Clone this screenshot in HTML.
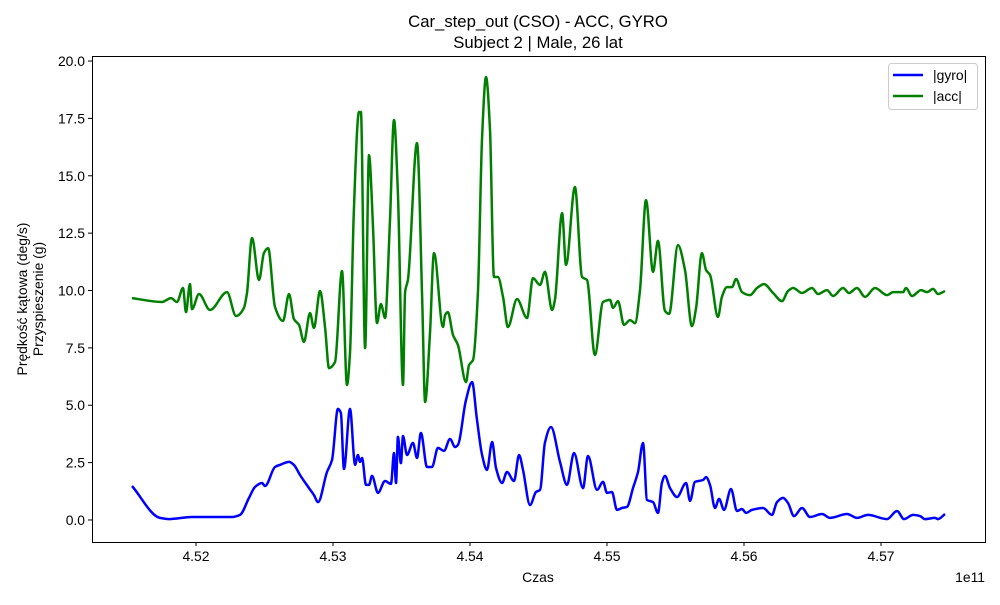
<!DOCTYPE html>
<html><head><meta charset="utf-8"><style>
body{margin:0;background:#fff;}
svg text{font-family:"Liberation Sans","DejaVu Sans",sans-serif;fill:#000;}
</style></head><body>
<svg id="chart" width="1000" height="600" xmlns="http://www.w3.org/2000/svg">
<rect x="0" y="0" width="1000" height="600" fill="#fff"/>
<text x="538" y="27" font-size="16.7" text-anchor="middle">Car_step_out (CSO) - ACC, GYRO</text>
<text x="538" y="48" font-size="16.7" text-anchor="middle">Subject 2 | Male, 26 lat</text>
<text x="538" y="582" font-size="13.9" text-anchor="middle">Czas</text>
<text x="985" y="582" font-size="13.9" text-anchor="end">1e11</text>
<g transform="translate(27,299) rotate(-90)">
<text x="0" y="0" font-size="13.9" text-anchor="middle">Prędkość kątowa (deg/s)</text>
<text x="0" y="16" font-size="13.9" text-anchor="middle">Przyspieszenie (g)</text>
</g>
<g id="grid"></g>
<g id="series"></g>
<rect x="92.5" y="56.5" width="893" height="486" fill="none" stroke="#000" stroke-width="1"/>
<g>
<rect x="888.5" y="63.5" width="89" height="46" rx="3" fill="#fff" fill-opacity="0.8" stroke="#ccc"/>
<line x1="893" y1="75" x2="923" y2="75" stroke="#0000ff" stroke-width="2.5"/>
<text x="933" y="80" font-size="13.9">|gyro|</text>
<line x1="893" y1="96" x2="923" y2="96" stroke="#008000" stroke-width="2.5"/>
<text x="933" y="101" font-size="13.9">|acc|</text>
</g>
</svg>
<script>
const xTicks = [452, 453, 454, 455, 456, 457];
const xTickLabels = ["4.52", "4.53", "4.54", "4.55", "4.56", "4.57"];
const yTicks = [0, 2.5, 5, 7.5, 10, 12.5, 15, 17.5, 20];
const yTickLabels = ["0.0", "2.5", "5.0", "7.5", "10.0", "12.5", "15.0", "17.5", "20.0"];
const accTime = [451.533,451.752,451.818,451.861,451.905,451.927,451.956,451.971,452.022,452.102,452.226,452.292,452.350,452.372,452.409,452.460,452.496,452.526,452.577,452.635,452.679,452.715,452.752,452.788,452.832,452.861,452.905,452.942,452.971,453.015,453.066,453.102,453.124,453.153,453.190,453.204,453.234,453.263,453.292,453.321,453.350,453.380,453.416,453.445,453.474,453.511,453.526,453.547,453.613,453.650,453.672,453.708,453.737,453.803,453.818,453.839,453.876,453.912,453.971,453.993,454.022,454.058,454.088,454.117,454.146,454.175,454.204,454.241,454.277,454.343,454.416,454.460,454.511,454.547,454.599,454.620,454.672,454.701,454.766,454.818,454.854,454.912,454.971,455.022,455.044,455.080,455.124,455.168,455.204,455.241,455.285,455.336,455.372,455.423,455.453,455.518,455.569,455.620,455.650,455.693,455.723,455.752,455.810,455.839,455.876,455.912,455.942,455.985,456.044,456.095,456.146,456.212,456.277,456.321,456.358,456.423,456.496,456.540,456.606,456.650,456.723,456.766,456.825,456.883,456.956,457.044,457.088,457.161,457.182,457.226,457.292,457.336,457.380,457.416,457.467];
const accValues = [9.67,9.50,9.67,9.50,10.11,9.06,10.28,9.19,9.85,9.15,9.93,8.89,9.24,9.89,12.29,10.46,11.63,11.85,9.28,8.67,9.85,8.76,8.50,7.76,9.02,8.37,9.98,8.41,6.62,6.88,10.85,5.88,7.28,13.64,17.78,17.78,7.49,15.90,12.77,8.58,9.41,8.80,13.07,17.43,14.25,5.88,9.93,10.46,16.43,9.89,5.14,8.15,11.63,8.41,8.93,9.06,8.06,7.63,6.01,6.75,6.97,9.89,16.69,19.30,16.99,10.59,10.59,9.72,8.41,9.63,8.80,10.54,10.24,10.81,9.15,9.59,13.38,11.11,14.51,10.59,10.46,7.19,9.50,9.59,9.24,9.54,8.50,8.71,8.58,10.02,13.94,10.81,12.16,9.11,8.98,11.98,10.89,8.45,9.24,11.63,10.89,10.68,8.85,9.72,10.15,10.15,10.50,9.93,9.80,10.11,10.28,9.89,9.54,9.98,10.11,9.89,10.11,9.85,10.02,9.76,10.11,9.89,10.11,9.72,10.11,9.80,9.93,9.93,10.11,9.76,10.02,9.93,10.07,9.85,9.98];
const gyroTime = [451.533,451.737,451.803,451.971,452.263,452.321,452.387,452.431,452.482,452.504,452.577,452.613,452.679,452.715,452.759,452.825,452.861,452.891,452.956,452.993,453.036,453.058,453.080,453.124,453.161,453.182,453.197,453.212,453.241,453.263,453.285,453.328,453.380,453.423,453.445,453.460,453.474,453.496,453.511,453.540,453.584,453.613,453.642,453.686,453.723,453.766,453.810,453.854,453.891,453.912,453.971,454.015,454.051,454.088,454.124,454.161,454.190,454.234,454.270,454.321,454.358,454.387,454.438,454.482,454.511,454.547,454.591,454.657,454.708,454.759,454.825,454.861,454.927,454.971,455.000,455.036,455.073,455.109,455.146,455.190,455.226,455.263,455.292,455.336,455.372,455.401,455.423,455.460,455.511,455.577,455.606,455.642,455.701,455.723,455.752,455.788,455.818,455.854,455.905,455.949,455.985,456.015,456.058,456.139,456.204,456.241,456.285,456.321,456.365,456.423,456.482,456.569,456.628,456.752,456.825,456.905,457.044,457.117,457.168,457.234,457.285,457.321,457.394,457.416,457.467];
const gyroValues = [1.48,0.09,0.04,0.13,0.13,0.22,0.96,1.44,1.61,1.48,2.31,2.40,2.53,2.40,1.96,1.39,1.09,0.78,2.09,2.61,4.84,4.66,2.22,4.84,2.40,2.83,2.53,2.70,1.53,1.53,1.92,1.18,1.70,1.57,2.92,1.61,3.62,2.48,3.66,2.83,3.36,2.70,3.79,2.31,2.31,3.14,3.01,3.53,3.18,3.27,5.23,6.01,4.36,2.83,2.18,3.40,2.27,1.61,2.09,1.70,2.83,2.18,0.65,1.22,1.31,3.36,4.05,2.53,1.53,2.92,1.39,2.79,1.31,1.66,1.18,1.22,0.44,0.52,0.57,1.39,2.09,3.36,0.87,0.78,0.31,1.61,1.92,1.39,1.00,1.61,0.83,1.66,1.74,1.87,1.53,0.52,0.92,0.44,1.35,0.39,0.48,0.31,0.44,0.52,0.22,0.78,0.96,0.74,0.17,0.52,0.13,0.26,0.09,0.26,0.09,0.22,0.04,0.39,0.04,0.22,0.17,0.04,0.09,0.04,0.26];

const NS = "http://www.w3.org/2000/svg";
const X0 = 92, X1 = 985, Y0 = 542, Y1 = 56;
const xMin = 451.241, xMax = 457.759, yMin = -0.96, yMax = 20.22;
function xScale(t){ return X0 + (t - xMin) / (xMax - xMin) * (X1 - X0); }
function yScale(v){ return Y0 - (v - yMin) / (yMax - yMin) * (Y0 - Y1); }
const grid = document.getElementById('grid');
const series = document.getElementById('series');

xTicks.forEach((t, i) => {
  const x = xScale(t);
  const ln = document.createElementNS(NS, 'line');
  
  
  ln.setAttribute('x1', x); ln.setAttribute('x2', x);
  ln.setAttribute('y1', Y0); ln.setAttribute('y2', Y0 + 4);
  ln.setAttribute('stroke', '#000');
  grid.appendChild(ln);
  const tx = document.createElementNS(NS, 'text');
  
  
  tx.setAttribute('x', x); tx.setAttribute('y', Y0 + 19);
  tx.setAttribute('font-size', '13.9');
  tx.setAttribute('text-anchor', 'middle');
  tx.textContent = xTickLabels[i];
  grid.appendChild(tx);
});
yTicks.forEach((v, i) => {
  const y = yScale(v);
  const ln = document.createElementNS(NS, 'line');
  
  
  ln.setAttribute('x1', X0 - 4); ln.setAttribute('x2', X0);
  ln.setAttribute('y1', y); ln.setAttribute('y2', y);
  ln.setAttribute('stroke', '#000');
  grid.appendChild(ln);
  const tx = document.createElementNS(NS, 'text');
  
  
  tx.setAttribute('x', X0 - 7); tx.setAttribute('y', y + 5);
  tx.setAttribute('font-size', '13.9');
  tx.setAttribute('text-anchor', 'end');
  tx.textContent = yTickLabels[i];
  grid.appendChild(tx);
});
function monotonePath(xs, ys){
  const n = xs.length;
  const d = [], m = new Array(n);
  for (let i = 0; i < n - 1; i++) d.push((ys[i+1] - ys[i]) / (xs[i+1] - xs[i]));
  m[0] = d[0]; m[n-1] = d[n-2];
  for (let i = 1; i < n - 1; i++) {
    if (d[i-1] * d[i] <= 0) m[i] = 0;
    else {
      const h0 = xs[i] - xs[i-1], h1 = xs[i+1] - xs[i];
      const w1 = 2*h1 + h0, w2 = h1 + 2*h0;
      m[i] = (w1 + w2) / (w1 / d[i-1] + w2 / d[i]);
    }
  }
  let p = 'M' + xs[0].toFixed(1) + ',' + ys[0].toFixed(1);
  for (let i = 0; i < n - 1; i++) {
    const h = (xs[i+1] - xs[i]) / 3;
    p += ' C' + (xs[i] + h).toFixed(1) + ',' + (ys[i] + m[i]*h).toFixed(1) + ' ' +
         (xs[i+1] - h).toFixed(1) + ',' + (ys[i+1] - m[i+1]*h).toFixed(1) + ' ' +
         xs[i+1].toFixed(1) + ',' + ys[i+1].toFixed(1);
  }
  return p;
}
function drawLine(ts, vs, color, name){
  const xs = ts.map(t => xScale(t));
  const ys = vs.map(v => yScale(v));
  const pl = document.createElementNS(NS, 'path');
  
  
  pl.setAttribute('d', monotonePath(xs, ys));
  pl.setAttribute('fill', 'none');
  pl.setAttribute('stroke', color);
  pl.setAttribute('stroke-width', '2.5');
  pl.setAttribute('stroke-linejoin', 'round');
  series.appendChild(pl);
}
drawLine(gyroTime, gyroValues, '#0000ff', 'gyro-line');
drawLine(accTime, accValues, '#008000', 'acc-line');
</script>
</body></html>
